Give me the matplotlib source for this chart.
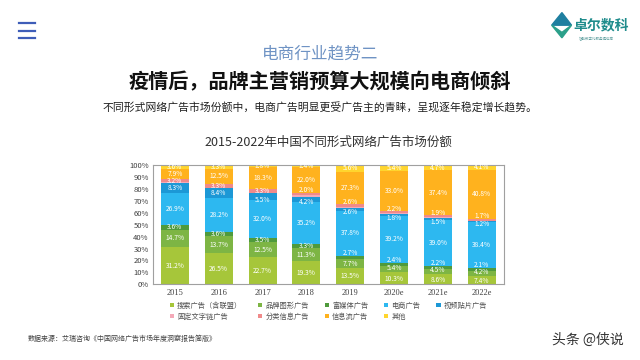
import numpy as np
import matplotlib.pyplot as plt
from matplotlib.patches import Polygon

plt.rcParams['font.family'] = ['Noto Sans CJK SC', 'DejaVu Sans']

years = ['2015', '2016', '2017', '2018', '2019', '2020e', '2021e', '2022e']
series_names = ['搜索广告（含联盟）', '品牌图形广告', '富媒体广告', '电商广告', '视频贴片广告',
                '固定文字链广告', '分类信息广告', '信息流广告', '其他']
search = [31.2, 26.5, 22.7, 19.3, 13.5, 10.3, 8.6, 7.4]
brand = [14.7, 13.7, 12.5, 11.3, 7.7, 5.4, 4.5, 4.2]
rich = [3.6, 3.6, 3.5, 3.3, 2.7, 2.4, 2.2, 2.1]
ecom = [26.9, 28.2, 32.0, 35.2, 37.8, 39.2, 39.0, 38.4]
video = [8.3, 8.4, 5.5, 4.2, 2.6, 1.8, 1.5, 1.2]
textlink = [0.6, 0.5, 0.4, 1.3, 0.2, 0.3, 0.2, 0.1]
classified = [3.2, 3.3, 3.3, 2.0, 2.6, 2.2, 1.9, 1.7]
feed = [7.9, 12.5, 18.3, 22.0, 27.3, 33.0, 37.4, 40.8]
other = [3.6, 3.3, 1.8, 1.4, 5.6, 5.4, 4.7, 4.1]
all_series = [search, brand, rich, ecom, video, textlink, classified, feed, other]
colors = ['#A6C63A', '#7DB544', '#4F9A3C', '#2DB8F0', '#1C98D6',
          '#F4A9B8', '#F08A8A', '#FFB21E', '#FFD52E']
show_label = [True, True, True, True, True, False, True, True, True]
# label nudges for thin segments (applied when value < limit)
nudge = [-1.0, 0.8, 3.8, 0, -2.5, 0, 3.0, 0, 0]
nudge_limit = [12, 6, 3.0, 0, 6, 0, 3.0, 0, 0]

fig = plt.figure(figsize=(6.4, 3.6), dpi=100)
ax = fig.add_axes([0.239, 0.21, 0.548, 0.332])

x = np.arange(len(years))
bottom = np.zeros(len(years))
handles = []
for k, (vals, c, name, lab) in enumerate(zip(all_series, colors, series_names, show_label)):
    vals = np.array(vals)
    b = ax.bar(x, vals, 0.64, bottom=bottom, color=c, label=name, linewidth=0)
    handles.append(b)
    if lab:
        for xi, v, bt in zip(x, vals, bottom):
            dy = nudge[k] if v < nudge_limit[k] else 0
            ax.text(xi, bt + v / 2 + dy, '%.1f%%' % v, ha='center', va='center',
                    color='white', fontsize=4.8)
    bottom += vals

ax.set_xlim(-0.5, 7.5)
ax.set_ylim(0, 100)
ax.set_yticks(np.arange(0, 101, 10))
ax.set_yticklabels(['%d%%' % t for t in range(0, 101, 10)], fontsize=5.5, color='#404040')
ax.set_xticks(x)
ax.set_xticklabels(years, fontsize=6, color='#404040', family='Liberation Serif')
ax.tick_params(length=0, pad=3)
for s in ax.spines.values():
    s.set_color('#A0A0A0')
    s.set_linewidth(0.8)

order = [0, 5, 1, 6, 2, 7, 3, 8, 4]
leg = ax.legend([handles[i] for i in order], [series_names[i] for i in order],
                ncol=5, loc='upper center', bbox_to_anchor=(0.5, -0.09), frameon=False,
                fontsize=5.2, handlelength=0.6, handleheight=0.6, handletextpad=0.4,
                columnspacing=2.2, labelspacing=0.4)
for t in leg.get_texts():
    t.set_color('#505050')

ax.set_title('2015-2022年中国不同形式网络广告市场份额', fontsize=9, color='#303030', pad=14)

# header
fig.text(0.5, 0.85, '电商行业趋势二', ha='center', va='center', fontsize=12, color='#6F93C4')
fig.text(0.5, 0.772, '疫情后，品牌主营销预算大规模向电商倾斜', ha='center', va='center',
         fontsize=14.5, fontweight='bold', color='#111111')
fig.text(0.5, 0.70, '不同形式网络广告市场份额中，电商广告明显更受广告主的青睐，呈现逐年稳定增长趋势。',
         ha='center', va='center', fontsize=7.8, color='#202020')

# menu icon
for yy in [0.935, 0.915, 0.895]:
    fig.add_artist(plt.Line2D([0.03, 0.055], [yy, yy], color='#3E5DB8', lw=1.6))

# logo
fig.add_artist(Polygon([[0.862, 0.93], [0.878, 0.965], [0.893, 0.93], [0.878, 0.93]],
                       closed=True, color='#1E7FA0', transform=fig.transFigure))
fig.add_artist(Polygon([[0.862, 0.93], [0.878, 0.895], [0.893, 0.93], [0.878, 0.91]],
                       closed=True, color='#2BA08A', transform=fig.transFigure))
fig.text(0.896, 0.93, '卓尔数科', ha='left', va='center', fontsize=10, fontweight='bold',
         color='#1F8C8C', style='italic')
fig.text(0.905, 0.893, '智能数字化服务提供商', ha='left', va='center', fontsize=2.5, color='#5F9F9F')

# footer
fig.text(0.044, 0.058, '数据来源：艾瑞咨询《中国网络广告市场年度洞察报告简版》', ha='left', va='center',
         fontsize=5, color='#404040')
fig.text(0.975, 0.055, '头条 @侠说', ha='right', va='center', fontsize=10, color='#333333')

fig.savefig('out.png', dpi=100)
